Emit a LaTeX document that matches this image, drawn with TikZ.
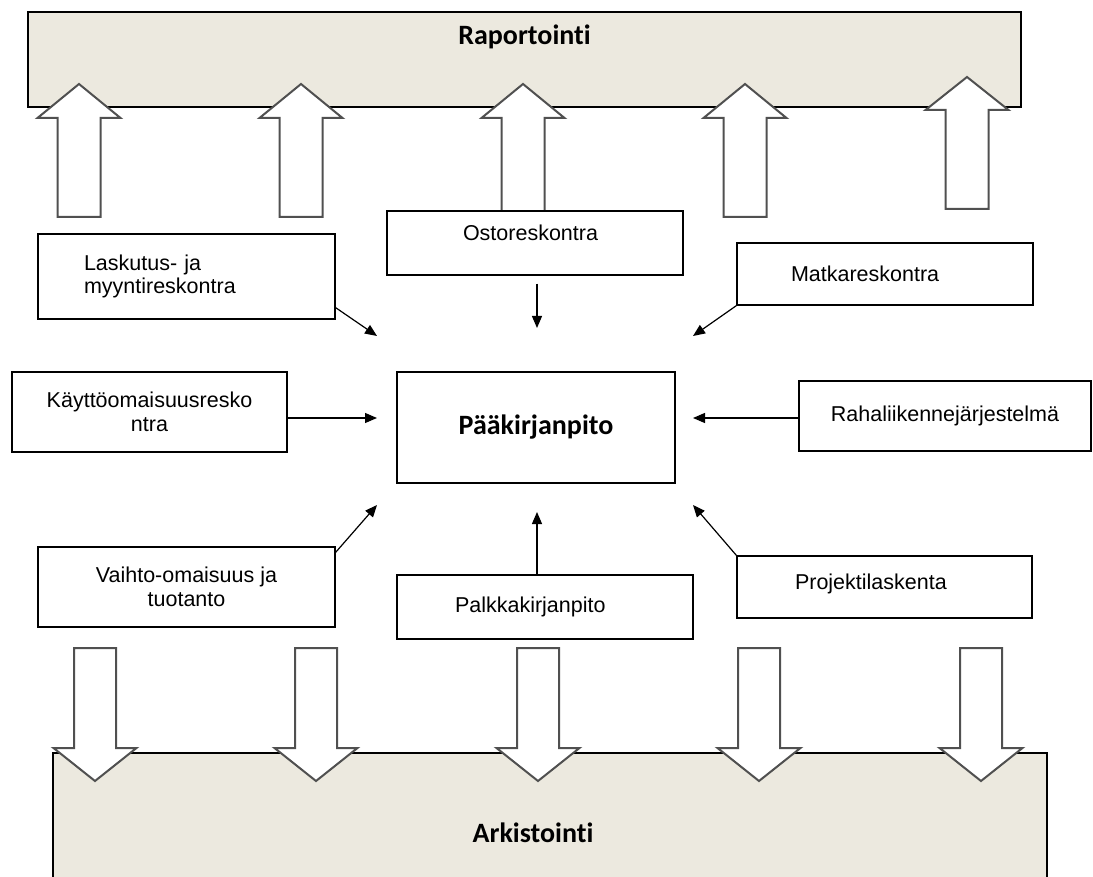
\documentclass[tikz,border=0pt]{standalone}
\usepackage{fontspec}
\usepackage{tikz}
\usetikzlibrary{arrows.meta}

\newfontfamily\modfont{Liberation Sans}
\newfontfamily\bandfont{Carlito}[Ligatures=NoCommon]
\definecolor{bandbg}{RGB}{236,233,223}
\definecolor{arrowgray}{RGB}{80,80,80}

\tikzset{
  module/.style={draw, line width=1.3pt, fill=white, inner sep=0pt, align=center,
    font=\modfont\fontsize{21.5}{23.5}\selectfont},
  band/.style={draw, line width=1.3pt, fill=bandbg},
  bandtext/.style={font=\bandfont\bfseries\fontsize{28}{32}\selectfont, anchor=center},
  bigarrow/.style={draw=arrowgray, line width=2pt, fill=white},
  feed/.style={-{Triangle[length=12pt,width=10pt]}, line width=1.2pt}
}

\begin{document}
\begin{tikzpicture}[x=1pt,y=-1pt]
	\useasboundingbox (0,0) rectangle (1093,877);
	\clip (0,0) rectangle (1093,877);

	% top band and arrows going up
	\node[band, minimum width=993pt, minimum height=95pt,
	  label={[bandtext, yshift=-26pt]north:Raportointi}] (rap) at (524.5,59.5) {};
	\foreach \x/\t/\b/\e in {79/84/118/217, 301/84/118/217, 523/84/118/217, 745/84/118/217, 967/77/110/209}
	  \draw[bigarrow] ({\x-21.5},\e) -- ({\x-21.5},\b) -- ({\x-41.5},\b) -- (\x,\t)
	    -- ({\x+41.5},\b) -- ({\x+21.5},\b) -- ({\x+21.5},\e) -- cycle;

	% bottom band and arrows going down
	\node[band, minimum width=994pt, minimum height=160pt,
	  label={[bandtext, xshift=-17pt]center:Arkistointi}] (ark) at (550,833) {};
	\foreach \x in {95,316,538,759,981}
	  \draw[bigarrow] ({\x-21},648) -- ({\x+21},648) -- ({\x+21},748) -- ({\x+41.5},748)
	    -- (\x,781) -- ({\x-41.5},748) -- ({\x-21},748) -- cycle;

	% modules
	\node[module, minimum width=297pt, minimum height=85pt, align=left, text width=205pt] (lask) at (186.5,276.5) {Laskutus- ja\\myyntireskontra};
	\node[module, minimum width=296pt, minimum height=64pt, align=left, text width=144pt, text depth=20pt] (osto) at (535,243) {Ostoreskontra};
	\node[module, minimum width=296pt, minimum height=62pt, align=left, text width=188pt] (matka) at (885,274) {Matkareskontra};
	\node[module, minimum width=275pt, minimum height=80pt] (kaytto) at (149.5,412) {Käyttöomaisuusresko\\ntra};
	\node[module, minimum width=278pt, minimum height=111pt, font=\bandfont\bfseries\fontsize{28}{32}\selectfont] (paa) at (536,427.5) {Pääkirjanpito};
	\node[module, minimum width=292pt, minimum height=70pt] (raha) at (945,416) {Rahaliikennejärjestelmä};
	\node[module, minimum width=297pt, minimum height=80pt] (vaihto) at (186.5,587) {Vaihto-omaisuus ja\\tuotanto};
	\node[module, minimum width=296pt, minimum height=64pt, align=left, text width=180pt] (palkka) at (545,607) {Palkkakirjanpito};
	\node[module, minimum width=295pt, minimum height=62pt, align=left, text width=179pt, text depth=11pt] (proj) at (884.5,587) {Projektilaskenta};

	% arrow heads around the ledger
	\coordinate (in1) at (377,336);
	\coordinate (in2) at (537,328);
	\coordinate (in3) at (693,336);
	\coordinate (in4) at (377,418);
	\coordinate (in5) at (693,418);
	\coordinate (in6) at (377,505);
	\coordinate (in7) at (537,512);
	\coordinate (in8) at (693,505);

	\path[feed]
		([yshift=12pt]lask.south east) edge (in1)
		(osto.south -| in2) edge[shorten <=8pt] (in2)
		(matka.south west) edge (in3)
		(kaytto.east |- in4) edge (in4)
		(raha.west |- in5) edge (in5)
		([yshift=-6pt]vaihto.north east) edge (in6)
		(palkka.north -| in7) edge (in7)
		(proj.north west) edge (in8);

\end{tikzpicture}
\end{document}
